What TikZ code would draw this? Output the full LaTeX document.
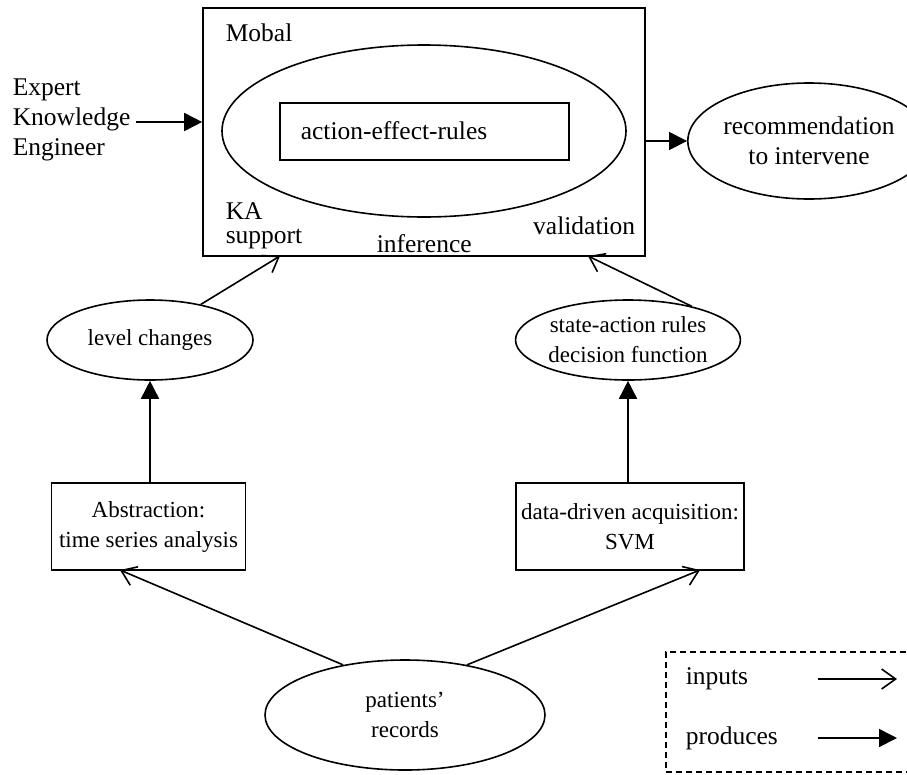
\documentclass[tikz,border=0pt]{standalone}
\usepackage{fontspec}
\setmainfont{Liberation Serif}
\usetikzlibrary{shapes.geometric,arrows.meta}
\begin{document}
\begin{tikzpicture}[x=1pt,y=-1pt, line width=1.6pt,
  every node/.style={font=\fontsize{25.5}{30}\selectfont},
  small/.style={font=\fontsize{23}{30}\selectfont},
  ell/.style={draw, ellipse, inner sep=0pt, align=center},
  box/.style={draw, rectangle, inner sep=0pt, align=center},
  lbl/.style={inner sep=0pt, anchor=west},
  inp/.style={-{Straight Barb[length=14pt,width=20pt,line width=1.6pt]}},
  prd/.style={-{Triangle[length=18pt,width=18pt]}}]
\useasboundingbox (0,0) rectangle (907,774);
% main Mobal box
\node[box, minimum width=442, minimum height=248] (mobal) at (424,132) {};
\node[ell, minimum width=404, minimum height=172] (ie) at (424,131) {};
\node[box, minimum width=289, minimum height=57] (aer) at (424.5,131.5) {};
\node[lbl] (aertxt) at (300,131) {action-effect-rules};
\node[lbl] (mob) at (225,33) {Mobal};
\node[lbl] (ka) at (225,211) {KA};
\node[lbl] (sup) at (225,239) {support};
\node[lbl] (inf) at (376,244) {inference};
\node[lbl, anchor=east] (val) at (636,226) {validation};
% expert
\node[inner sep=5pt, align=left, anchor=west] (exp) at (7,120) {Expert\\Knowledge\\Engineer};
\draw[prd] (exp.east |- 0,122) -- (mobal.west |- 0,122);
% recommendation
\node[ell, minimum width=214, minimum height=116] (rec) at (809,141) {recommendation\\to intervene};
\draw[prd] (rec.west -| mobal.east) -- (rec.west);
% middle ellipses
\node[ell, small, minimum width=206, minimum height=80] (lc) at (150,340) {level changes};
\node[ell, small, minimum width=206, minimum height=80] (sa) at (628,340) {state-action rules\\decision function};
% boxes
\node[box, small, minimum width=194, minimum height=87] (abs) at (148.5,526.5) {Abstraction:\\time series analysis};
\node[box, small, minimum width=228, minimum height=87] (ddr) at (630,526.5) {data-driven acquisition:\\SVM};
% patients
\node[ell, small, minimum width=280, minimum height=110] (pat) at (405,715) {patients’\\records};
% connectors
\coordinate (t1) at (280,256);
\coordinate (t2) at (588,256);
\draw[inp] (lc.35) -- (t1);
\draw[inp] (sa.28) -- (t2);
\draw[prd] (abs.north -| lc.south) -- (lc.south);
\draw[prd] (ddr.north -| sa.south) -- (sa.south);
\coordinate (b1) at (120,570);
\coordinate (b2) at (700,570);
\draw[inp] (pat.141) -- (b1);
\draw[inp] (pat.39) -- (b2);
% legend
\node[draw, dashed, dash pattern=on 6pt off 4pt, minimum width=255, minimum height=120, anchor=north west, inner sep=0pt] (leg) at (665,651) {};
\node[lbl] (lin) at (685,679) {inputs};
\node[lbl] (lpr) at (685,738) {produces};
\coordinate (i1) at (818,679);
\coordinate (i2) at (897,679);
\coordinate (p1) at (818,738);
\coordinate (p2) at (897,738);
\draw[inp] (i1) -- (i2);
\draw[prd] (p1) -- (p2);
\end{tikzpicture}
\end{document}
